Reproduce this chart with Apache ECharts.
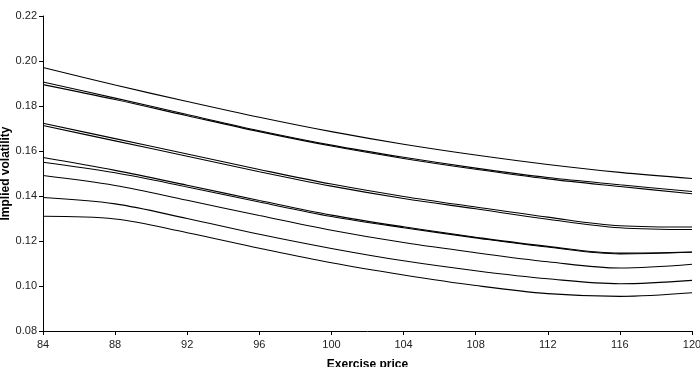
<!DOCTYPE html>
<html>
<head>
<meta charset="utf-8">
<script src="https://cdn.jsdelivr.net/npm/echarts@6/dist/echarts.min.js"></script>
<style>
  html, body { margin: 0; padding: 0; background: #fff; }
  #chart { width: 700px; height: 367px; }
</style>
</head>
<body>
<div id="chart"></div>
<script>
// exercise prices where the curves were read
const strikes = [84, 88, 92, 96, 100, 104, 108, 112, 116, 120];

// implied volatility curves, top to bottom
const volA = [0.1971, 0.1893, 0.1820, 0.1750, 0.1686, 0.1630, 0.1582, 0.1540, 0.1505, 0.1478];
const volB = [0.1907, 0.1835, 0.1762, 0.1690, 0.1626, 0.1572, 0.1524, 0.1482, 0.1450, 0.1420];
const volC = [0.1895, 0.1829, 0.1757, 0.1686, 0.1622, 0.1567, 0.1519, 0.1476, 0.1442, 0.1410];
const volD = [0.1723, 0.1655, 0.1587, 0.1518, 0.1453, 0.1398, 0.1351, 0.1306, 0.1268, 0.1262];
const volE = [0.1713, 0.1645, 0.1577, 0.1508, 0.1444, 0.1389, 0.1343, 0.1297, 0.1259, 0.1251];
const volF = [0.1571, 0.1514, 0.1448, 0.1380, 0.1315, 0.1263, 0.1217, 0.1176, 0.1146, 0.1151];
const volG = [0.1550, 0.1503, 0.1440, 0.1373, 0.1309, 0.1259, 0.1214, 0.1173, 0.1143, 0.1150];
const volH = [0.1491, 0.1447, 0.1381, 0.1313, 0.1248, 0.1193, 0.1148, 0.1108, 0.1080, 0.1097];
const volI = [0.1393, 0.1365, 0.1300, 0.1230, 0.1167, 0.1112, 0.1068, 0.1032, 0.1010, 0.1025];
const volJ = [0.1310, 0.1298, 0.1237, 0.1168, 0.1103, 0.1049, 0.1002, 0.0966, 0.0954, 0.0970];

const curves = [volA, volB, volC, volD, volE, volF, volG, volH, volI, volJ];

const chart = echarts.init(document.getElementById('chart'));
const font = 'Liberation Sans, Arial, sans-serif';

chart.setOption({
  animation: false,
  grid: { left: 43, right: 8, top: 16, bottom: 36, outerBoundsMode: 'none' },
  xAxis: {
    type: 'value',
    min: 84, max: 120, interval: 4,
    name: 'Exercise price',
    nameLocation: 'middle',
    nameGap: 28,
    nameMoveOverlap: false,
    nameTextStyle: { fontFamily: font, fontSize: 12, fontWeight: 'bold', color: '#000' },
    axisLine: { lineStyle: { color: '#000', width: 1 } },
    axisTick: { length: 4, lineStyle: { color: '#000' } },
    axisLabel: { fontFamily: font, fontSize: 11, color: '#222', margin: 8 },
    splitLine: { show: false }
  },
  yAxis: {
    type: 'value',
    min: 0.08, max: 0.22, interval: 0.02,
    name: 'Implied volatility',
    nameLocation: 'middle',
    nameGap: 31,
    nameMoveOverlap: false,
    nameTextStyle: { fontFamily: font, fontSize: 12, fontWeight: 'bold', color: '#000' },
    axisLine: { show: true, lineStyle: { color: '#000', width: 1 } },
    axisTick: { show: true, length: 4, lineStyle: { color: '#000' } },
    axisLabel: { fontFamily: font, fontSize: 11, color: '#222', margin: 6,
      formatter: v => v.toFixed(2) },
    splitLine: { show: false }
  },
  series: curves.map((vals, i) => ({
    name: 'curve' + (i + 1),
    type: 'line',
    smooth: 0.35,
    showSymbol: false,
    lineStyle: { color: '#000', width: 1.1 },
    data: strikes.map((k, j) => [k, vals[j]])
  }))
});
</script>
</body>
</html>
